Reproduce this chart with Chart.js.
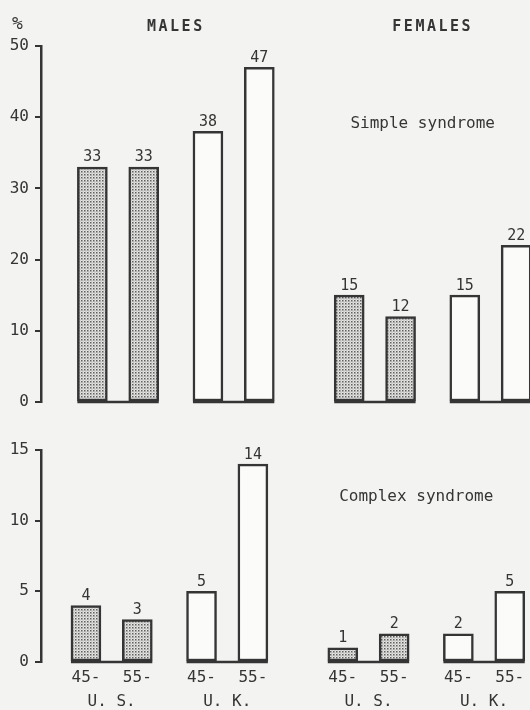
<!DOCTYPE html>
<html><head><meta charset="utf-8">
<script src="https://cdn.jsdelivr.net/npm/chart.js@4"></script>
<style>
html,body{margin:0;padding:0;background:#f3f3f1;}
#wrap{position:relative;width:530px;height:710px;overflow:hidden;background:#f3f3f1;}
canvas{position:absolute;left:0;display:block;}
#c1{top:0;}
#c2{top:420px;}
</style></head><body>
<div id="wrap">
<canvas id="c1" width="530" height="420"></canvas>
<canvas id="c2" width="530" height="290"></canvas>
</div>
<script>
// ---- data ----
const sexes = ['MALES', 'FEMALES'];
const countries = ['U. S.', 'U. K.'];
const ageGroups = ['45-', '55-'];
// order: Males US 45-, 55-, Males UK 45-, 55-, Females US 45-, 55-, Females UK 45-, 55-
const simpleValues = [33, 33, 38, 47, 15, 12, 15, 22];
const complexValues = [4, 3, 5, 14, 1, 2, 2, 5];
const simpleTicks = [0, 10, 20, 30, 40, 50];
const complexTicks = [0, 5, 10, 15];
const panelTitles = ['Simple syndrome', 'Complex syndrome'];

// ---- layout ----
const barSlots = [0, 4, 9, 13, 20, 24, 29, 33];
const INK = '#353535';
const FONT = '"DejaVu Sans Mono", "Liberation Mono", monospace';

function makeStipple() {
  const t = document.createElement('canvas');
  t.width = 3; t.height = 3;
  const c = t.getContext('2d');
  c.fillStyle = '#e6e6e4';
  c.fillRect(0, 0, 3, 3);
  c.fillStyle = '#5e5e5e';
  c.fillRect(0, 0, 1.5, 1.5);
  c.fillStyle = '#8e8e8e';
  c.fillRect(1.5, 1.5, 1, 1);
  return c.createPattern(t, 'repeat');
}
const stipple = makeStipple();

function buildSlots(values, lead, n) {
  const data = new Array(n).fill(null);
  const colors = new Array(n).fill('#fbfbfa');
  const labels = new Array(n).fill('');
  values.forEach((v, i) => {
    const s = lead + barSlots[i];
    data[s] = v;
    const country = Math.floor(i / 2) % 2;
    colors[s] = country === 0 ? stipple : '#fbfbfa';
    labels[s] = ageGroups[i % 2];
  });
  for (let p = 0; p < values.length / 2; p++) {
    const c = lead + (barSlots[2 * p] + barSlots[2 * p + 1]) / 2;
    labels[c] = ['', countries[p % 2]];
  }
  return { data, colors, labels };
}

const decorPlugin = {
  id: 'decor',
  afterDatasetsDraw(chart, args, opts) {
    const ctx = chart.ctx;
    const meta = chart.getDatasetMeta(0);
    const ys = chart.scales.y;
    const y0 = ys.getPixelForValue(0);
    const idx = opts.barIndex;
    const els = idx.map(i => meta.data[i]);
    ctx.save();
    // pair baselines
    ctx.strokeStyle = INK;
    ctx.lineWidth = 2.5;
    for (let p = 0; p < els.length; p += 2) {
      const a = els[p], b = els[p + 1];
      ctx.beginPath();
      ctx.moveTo(a.x - a.width / 2, y0);
      ctx.lineTo(b.x + b.width / 2, y0);
      ctx.stroke();
    }
    // value labels
    ctx.fillStyle = INK;
    ctx.font = '15px ' + FONT;
    ctx.textAlign = 'center';
    ctx.textBaseline = 'bottom';
    els.forEach((e, k) => {
      ctx.fillText(String(opts.values[k]), e.x, e.y - 2);
    });
    // panel title
    const fx = (els[4].x + els[7].x) / 2 - 10;
    ctx.font = '16px ' + FONT;
    ctx.textBaseline = 'middle';
    ctx.fillText(opts.title, fx, ys.getPixelForValue(opts.titleAt));
    if (opts.headers) {
      ctx.font = 'bold 15px ' + FONT;
      ctx.letterSpacing = '2.5px';
      const mx = (els[0].x + els[3].x) / 2;
      ctx.fillText(sexes[0], mx, 27);
      ctx.fillText(sexes[1], fx + 10, 27);
      ctx.letterSpacing = '0px';
      ctx.font = '18px ' + FONT;
      ctx.textAlign = 'left';
      ctx.fillText('%', 12, 24);
    }
    ctx.restore();
  }
};

function makeChart(id, values, ticks, lead, n, offset, pad, title, titleAt, headers, showX) {
  const s = buildSlots(values, lead, n);
  const barIndex = barSlots.map(b => b + lead);
  return new Chart(document.getElementById(id), {
    type: 'bar',
    data: {
      labels: s.labels,
      datasets: [{
        data: s.data,
        backgroundColor: s.colors,
        borderColor: INK,
        borderWidth: 2.5,
        borderSkipped: false,
        barThickness: 30,
        clip: false
      }]
    },
    options: {
      responsive: false,
      animation: false,
      events: [],
      layout: { padding: pad },
      plugins: {
        legend: { display: false },
        tooltip: { enabled: false },
        decor: { barIndex, values, title, titleAt, headers }
      },
      scales: {
        x: {
          type: 'category',
          offset: offset,
          display: showX,
          grid: { display: false, drawTicks: false },
          border: { display: false },
          ticks: {
            autoSkip: false,
            maxRotation: 0,
            padding: 4,
            color: INK,
            font: { family: FONT, size: 16, lineHeight: 1.5 }
          },
          afterFit(sc) { if (showX) sc.height = 48; }
        },
        y: {
          min: ticks[0],
          max: ticks[ticks.length - 1],
          afterBuildTicks(sc) { sc.ticks = ticks.map(v => ({ value: v })); },
          grid: { drawOnChartArea: false, drawTicks: true, tickLength: 6, color: INK, lineWidth: 2 },
          border: { display: true, color: INK, width: 2.5 },
          ticks: { color: INK, padding: 6, font: { family: FONT, size: 16 } },
          afterFit(sc) { sc.width = 41; }
        }
      }
    },
    plugins: [decorPlugin]
  });
}

makeChart('c1', simpleValues, simpleTicks, 4, 39, false,
  { top: 46, bottom: 18, left: 0, right: 1 }, panelTitles[0], 39, true, false);
makeChart('c2', complexValues, complexTicks, 3, 38, true,
  { top: 30, bottom: 0, left: 0, right: 1 }, panelTitles[1], 11.7, false, true);
</script>
</body></html>
